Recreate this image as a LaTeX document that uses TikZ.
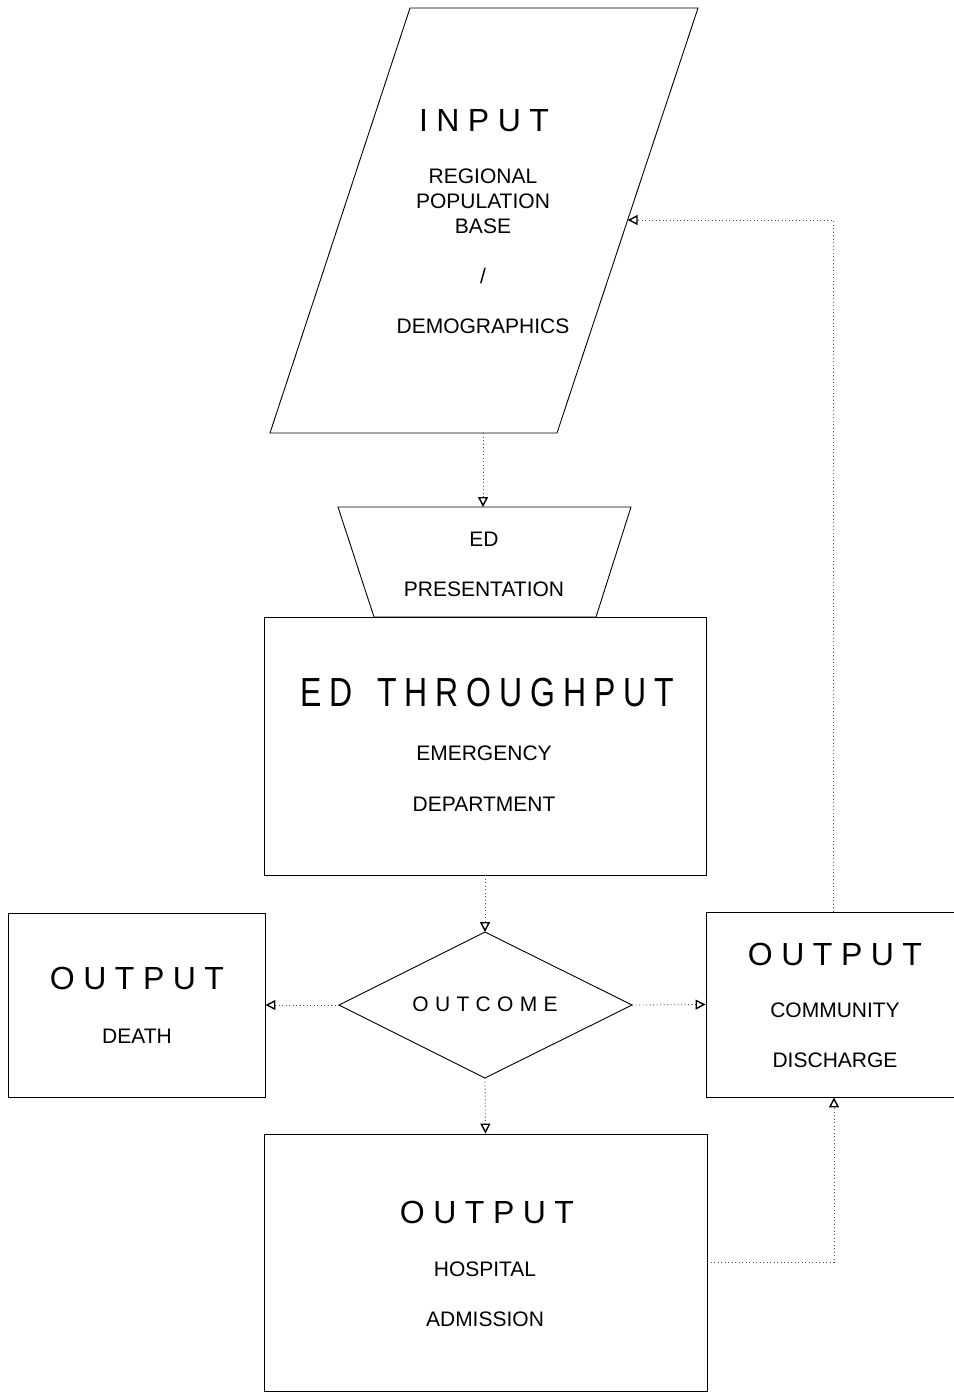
\documentclass[tikz,border=0pt]{standalone}
\usepackage{fontspec}
\setmainfont{Liberation Sans}
\usetikzlibrary{arrows.meta}

% letter tracking for the spaced-out headings
\newcommand{\trackbig}{\kern8.5pt}
\newcommand{\trackmid}{\kern7.9pt}
\newcommand{\tracksmall}{\kern6.3pt}

\begin{document}
\begin{tikzpicture}[x=1pt,y=-1pt,
  outline/.style={draw=black, line width=0.9pt},
  box/.style={outline, rectangle, inner sep=0pt},
  flow/.style={draw=black!70, line width=0.8pt, dash pattern=on 1pt off 2.5pt,
    -{Triangle[open, length=10pt, width=10pt, line width=1.4pt, color=black]}},
  small/.style={font=\fontsize{21}{25}\selectfont, anchor=base, inner sep=0pt},
  big/.style={font=\fontsize{32}{38}\selectfont, anchor=base, inner sep=0pt},
]
\useasboundingbox (0,0) rectangle (953,1392);

% input parallelogram
\draw[outline] (410,8) -- (698,8) -- (557,433) -- (270,433) -- cycle;
\coordinate (inbottom) at (483,433);
\coordinate (inright) at (627.7,220);

% ED presentation trapezoid
\draw[outline] (338,507) -- (631,507) -- (596,617) -- (374,617) -- cycle;
\coordinate (prtop) at (483,507);

% boxes
\node[box, minimum width=442pt, minimum height=258pt] (ed) at (485,746) {};
\node[box, minimum width=257pt, minimum height=184pt] (death) at (136.5,1005) {};
\node[box, minimum width=249pt, minimum height=185pt] (comm) at (830.5,1004.5) {};
\node[box, minimum width=443pt, minimum height=257pt] (hosp) at (485.5,1262.5) {};

% outcome diamond
\coordinate (dtop) at (485,932);
\coordinate (dright) at (632,1005);
\coordinate (dbottom) at (485,1078);
\coordinate (dleft) at (339,1005);
\draw[outline] (dtop) -- (dright) -- (dbottom) -- (dleft) -- cycle;

% connectors
\coordinate (h2c) at (834,1262.5);
\coordinate (c2i) at (833,220);
\draw[flow] (inbottom) -- (prtop);
\draw[flow] (ed.south) -- (dtop);
\draw[flow] (dleft) -- (death.east);
\draw[flow] (dright) -- (comm.west);
\draw[flow] (dbottom) -- (hosp.north);
\draw[flow] (hosp.east) -- (h2c) -- (h2c |- comm.south);
\draw[flow] (c2i |- comm.north) -- (c2i) -- (inright);

% texts: input
\node[big] (tinput) at (484,131) {I\trackbig N\trackbig P\trackbig U\trackbig T};
\node[small] (tregional) at (483,183) {REGIONAL};
\node[small] (tpopulation) at (483,208) {POPULATION};
\node[small] (tbase) at (483,233) {BASE};
\node[small] (tslash) at (483,283) {/};
\node[small] (tdemo) at (483,333) {DEMOGRAPHICS};

% texts: presentation
\node[small] (ted) at (484,546) {ED};
\node[small] (tpres) at (484,596) {PRESENTATION};

% texts: throughput
\node[big] (tthrough) at (487,706) {\scalebox{1}[1.27]{E\trackmid D\trackmid\ \trackmid T\trackmid H\trackmid R\trackmid O\trackmid U\trackmid G\trackmid H\trackmid P\trackmid U\trackmid T}};
\node[small] (temerg) at (484,760) {EMERGENCY};
\node[small] (tdept) at (484,811) {DEPARTMENT};

% texts: outcome
\node[small] (toutcome) at (485,1011) {O\tracksmall U\tracksmall T\tracksmall C\tracksmall O\tracksmall M\tracksmall E};

% texts: outputs
\node[big] (tout1) at (137,989) {O\trackbig U\trackbig T\trackbig P\trackbig U\trackbig T};
\node[small] (tdeath) at (137,1043) {DEATH};
\node[big] (tout2) at (835,965) {O\trackbig U\trackbig T\trackbig P\trackbig U\trackbig T};
\node[small] (tcomm) at (835,1017) {COMMUNITY};
\node[small] (tdisch) at (835,1067) {DISCHARGE};
\node[big] (tout3) at (487,1223) {O\trackbig U\trackbig T\trackbig P\trackbig U\trackbig T};
\node[small] (thosp) at (485,1276) {HOSPITAL};
\node[small] (tadm) at (485,1326) {ADMISSION};
\end{tikzpicture}
\end{document}
